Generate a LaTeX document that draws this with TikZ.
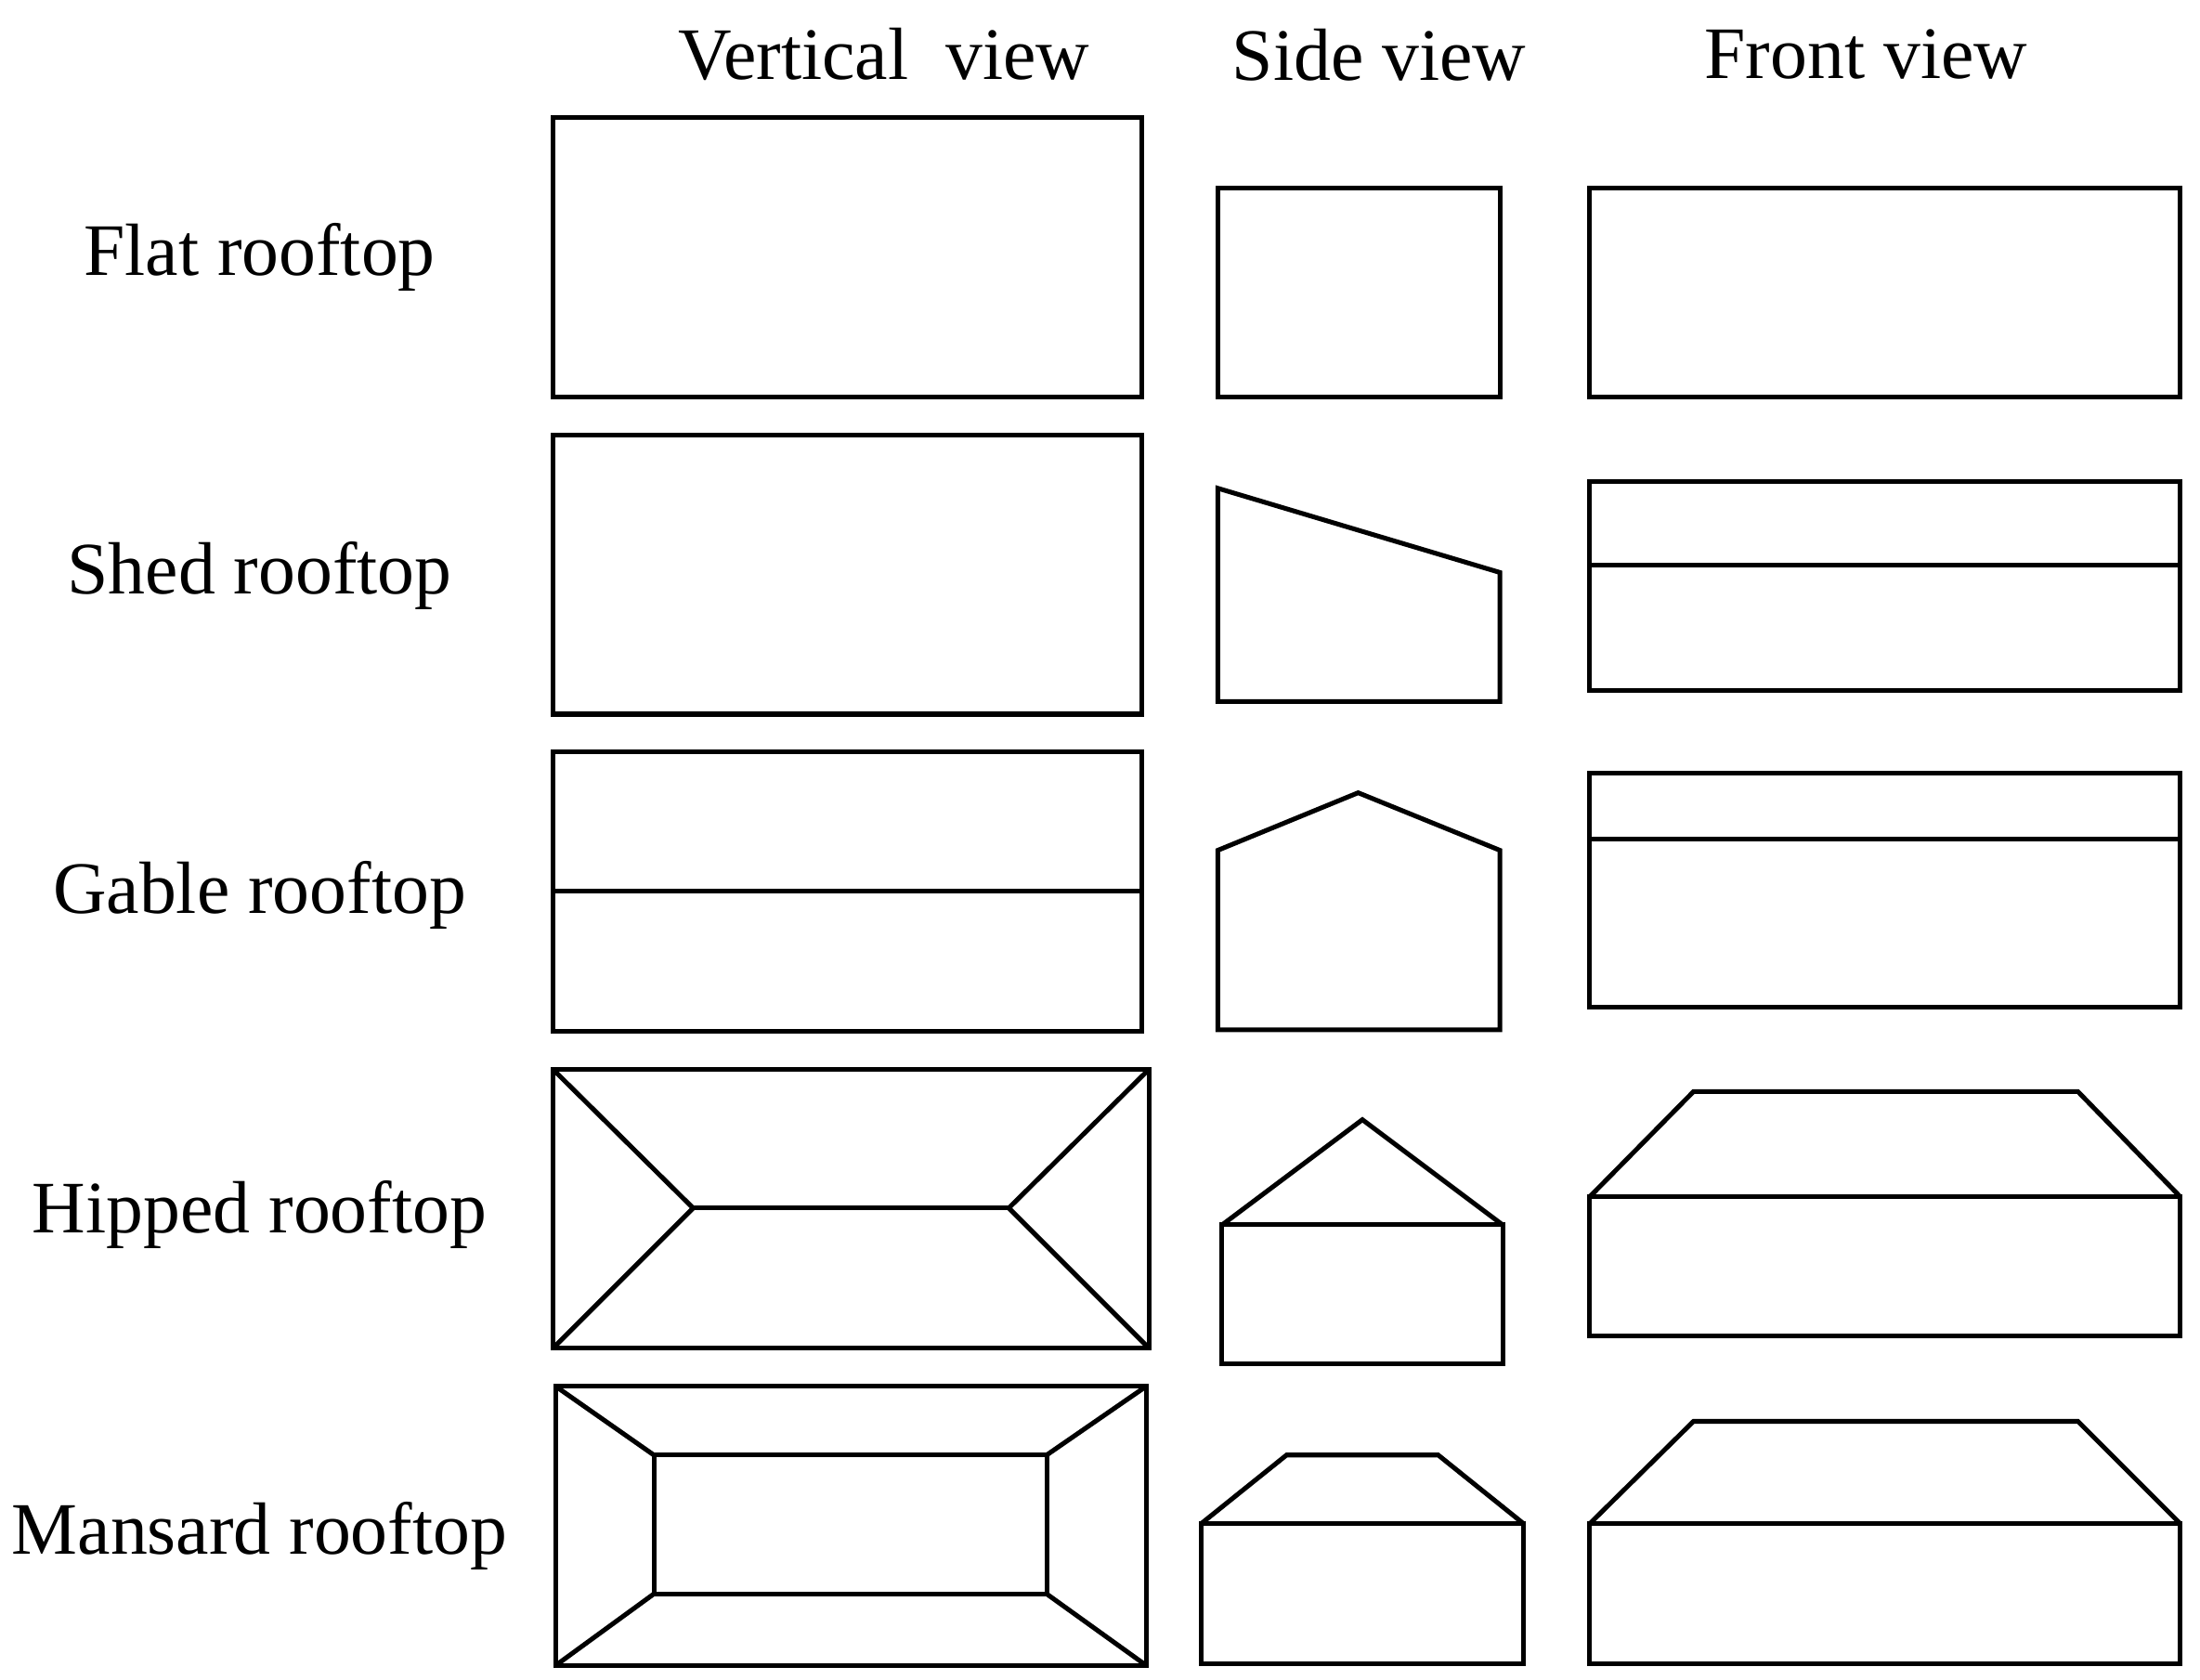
\documentclass[tikz,border=0pt]{standalone}
\usepackage{fontspec}
\setmainfont{Liberation Serif}
\begin{document}
\begin{tikzpicture}[x=0.01cm,y=-0.01cm,line width=0.95pt,line join=miter,
  lbl/.style={font=\fontsize{15}{17}\selectfont,inner sep=0pt},
  hdr/.style={font=\fontsize{15}{17}\selectfont,inner sep=0pt}]
\useasboundingbox (0,0) rectangle (1568,1197);
% headers
\node[hdr] (h1) at (630,39) {Vertical\ \ view};
\node[hdr] (h2) at (983,39) {Side view};
\node[hdr] (h3) at (1330,39) {Front view};
% labels
\node[lbl] (l1) at (185,183) {Flat rooftop};
\node[lbl] (l2) at (185,410) {Shed rooftop};
\node[lbl] (l3) at (185,638) {Gable rooftop};
\node[lbl] (l4) at (185,866) {Hipped rooftop};
\node[lbl] (l5) at (185,1095) {Mansard rooftop};
% row 1
\draw (394,84) rectangle (814,283);
\draw (868,134) rectangle (1069,283);
\draw (1133,134) rectangle (1554,283);
% row 2
\draw (394,310) rectangle (814,509);
\draw (868,348) -- (1069,408) -- (1069,500) -- (868,500) -- cycle;
\draw (1133,343) rectangle (1554,492);
\draw (1133,403) -- (1554,403);
% row 3
\draw (394,536) rectangle (814,735);
\draw (394,635) -- (814,635);
\draw (868,606) -- (968,565) -- (1069,606) -- (1069,734) -- (868,734) -- cycle;
\draw (1133,551) rectangle (1554,718);
\draw (1133,598) -- (1554,598);
% row 4
\draw (394,762) rectangle (819,961);
\draw (394,762) -- (494,861) -- (394,961);
\draw (819,762) -- (719,861) -- (819,961);
\draw (494,861) -- (719,861);
\draw (871,873) rectangle (1071,972);
\draw (871,873) -- (971,798) -- (1071,873);
\draw (1133,853) rectangle (1554,952);
\draw (1133,853) -- (1207,778) -- (1481,778) -- (1554,853);
% row 5
\draw (396,988) rectangle (817,1187);
\draw (466,1037) rectangle (746,1136);
\draw (396,988) -- (466,1037);
\draw (817,988) -- (746,1037);
\draw (396,1187) -- (466,1136);
\draw (817,1187) -- (746,1136);
\draw (856,1086) rectangle (1086,1186);
\draw (856,1086) -- (917,1037) -- (1025,1037) -- (1086,1086);
\draw (1133,1086) rectangle (1554,1186);
\draw (1133,1086) -- (1207,1013) -- (1481,1013) -- (1554,1086);
\end{tikzpicture}
\end{document}
